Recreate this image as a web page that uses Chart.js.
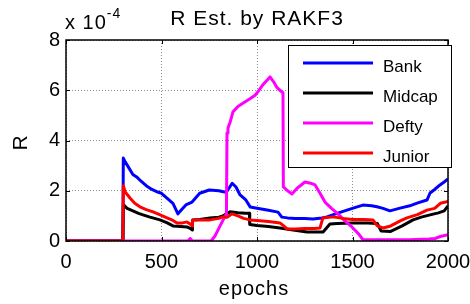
<!DOCTYPE html>
<html>
<head>
<meta charset="utf-8">
<title>R Est. by RAKF3</title>
<script src="https://cdn.jsdelivr.net/npm/chart.js@4/dist/chart.umd.min.js"></script>
<style>
  html, body { margin: 0; padding: 0; background: #fff; }
  canvas { display: block; }
</style>
</head>
<body>
<canvas id="r-chart" width="470" height="304"></canvas>
<script>
// values are in units of 1e-4 (the axis shows "x 10^-4")
var seriesNames = ['Bank', 'Midcap', 'Defty', 'Junior'];
var seriesColors = ['#0000ff', '#000000', '#ff00ff', '#ff0000'];

var bankEpochs = [0, 298, 300, 310, 330, 350, 370, 390, 420, 450, 480, 500, 530, 560, 586, 600, 630, 660, 700, 750, 800, 830, 845, 870, 890, 910, 940, 965, 1000, 1060, 1110, 1130, 1160, 1200, 1250, 1293, 1340, 1366, 1419, 1471, 1520, 1555, 1600, 1628, 1660, 1696, 1749, 1800, 1838, 1890, 1906, 1930, 1958, 1980, 2000];
var bankR = [0, 0, 3.3, 3.15, 2.9, 2.65, 2.55, 2.4, 2.2, 2.05, 1.95, 1.9, 1.7, 1.5, 1.08, 1.2, 1.45, 1.55, 1.9, 2.03, 2.0, 1.95, 2.0, 2.3, 2.15, 1.85, 1.65, 1.35, 1.3, 1.22, 1.15, 0.95, 0.92, 0.9, 0.9, 0.88, 0.92, 0.96, 1.1, 1.23, 1.35, 1.43, 1.4, 1.36, 1.3, 1.2, 1.31, 1.4, 1.51, 1.63, 1.91, 2.05, 2.23, 2.35, 2.47];

var midcapEpochs = [0, 298, 300, 320, 350, 380, 403, 440, 492, 530, 560, 600, 633, 650, 660, 662, 700, 754, 800, 822, 859, 900, 940, 960, 962, 1000, 1060, 1120, 1180, 1262, 1300, 1346, 1382, 1420, 1500, 1580, 1630, 1650, 1700, 1760, 1817, 1860, 1906, 1950, 1980, 2000];
var midcapR = [0, 0, 1.45, 1.3, 1.2, 1.1, 1.04, 0.95, 0.84, 0.72, 0.6, 0.58, 0.56, 0.5, 0.44, 0.84, 0.86, 0.92, 0.95, 1.0, 1.16, 1.12, 1.1, 1.1, 0.66, 0.62, 0.58, 0.52, 0.45, 0.36, 0.36, 0.36, 0.68, 0.7, 0.72, 0.72, 0.7, 0.4, 0.38, 0.6, 0.84, 0.95, 1.04, 1.12, 1.2, 1.4];

var deftyEpochs = [0, 640, 650, 660, 760, 780, 800, 820, 840, 843, 848, 860, 874, 900, 930, 963, 990, 1005, 1031, 1068, 1090, 1105, 1120, 1136, 1138, 1160, 1183, 1210, 1251, 1280, 1304, 1330, 1356, 1390, 1424, 1460, 1497, 1530, 1555, 1600, 1700, 1800, 1900, 1932, 1960, 2000];
var deftyR = [0, 0, 0.1, 0, 0, 0.2, 0.5, 0.8, 1.08, 4.3, 4.5, 4.75, 5.14, 5.35, 5.5, 5.66, 5.8, 5.94, 6.22, 6.53, 6.3, 6.1, 6.0, 5.9, 2.15, 2.0, 1.87, 2.1, 2.35, 2.3, 2.23, 1.9, 1.55, 1.3, 1.08, 0.8, 0.56, 0.3, 0.05, 0.05, 0.05, 0.05, 0.08, 0.1, 0.18, 0.25];

var juniorEpochs = [0, 298, 300, 310, 335, 360, 387, 420, 456, 490, 529, 560, 581, 610, 633, 650, 660, 662, 700, 754, 800, 822, 845, 869, 900, 930, 963, 1000, 1060, 1120, 1140, 1157, 1200, 1250, 1300, 1330, 1345, 1398, 1450, 1500, 1560, 1607, 1630, 1660, 1700, 1750, 1785, 1840, 1890, 1930, 1960, 2000];
var juniorR = [0, 0, 2.2, 1.95, 1.71, 1.5, 1.36, 1.25, 1.16, 1.05, 0.92, 0.82, 0.72, 0.72, 0.76, 0.68, 0.6, 0.84, 0.84, 0.84, 0.9, 0.96, 0.95, 1.08, 1.0, 0.9, 0.84, 0.82, 0.78, 0.72, 0.6, 0.48, 0.48, 0.5, 0.5, 0.52, 0.92, 0.96, 0.9, 0.86, 0.86, 0.84, 0.6, 0.52, 0.6, 0.8, 0.92, 1.05, 1.23, 1.3, 1.5, 1.57];

var xTicks = [0, 500, 1000, 1500, 2000];
var yTicks = [0, 2, 4, 6, 8];

var FONT = "'Liberation Sans', Arial, Helvetica, sans-serif";

function toPoints(xs, ys) {
    var pts = [];
    for (let i = 0; i < xs.length; i++) {
        pts.push({ x: xs[i], y: ys[i] });
    }
    return pts;
}

var allEpochs = [bankEpochs, midcapEpochs, deftyEpochs, juniorEpochs];
var allR = [bankR, midcapR, deftyR, juniorR];

var datasets = [];
for (let i = 0; i < seriesNames.length; i++) {
    datasets.push({
        label: seriesNames[i],
        data: toPoints(allEpochs[i], allR[i]),
        borderColor: seriesColors[i],
        backgroundColor: seriesColors[i],
        borderWidth: 3,
        pointRadius: 0,
        tension: 0,
        borderJoinStyle: 'round',
        order: seriesNames.length - i   // last series drawn on top, like matlab
    });
}

// box, inward ticks, title, axis labels and legend in matlab style
var matlabDecor = {
    id: 'matlabDecor',
    afterDraw: function(chart) {
        var ctx = chart.ctx;
        var area = chart.chartArea;
        var xs = chart.scales.x, ys = chart.scales.y;
        ctx.save();

        // inward tick marks
        ctx.strokeStyle = '#000';
        ctx.lineWidth = 1;
        ctx.beginPath();
        xTicks.forEach(function(v) {
            var px = Math.round(xs.getPixelForValue(v)) + 0.5;
            ctx.moveTo(px, area.bottom); ctx.lineTo(px, area.bottom - 4);
            ctx.moveTo(px, area.top); ctx.lineTo(px, area.top + 4);
        });
        yTicks.forEach(function(v) {
            var py = Math.round(ys.getPixelForValue(v)) + 0.5;
            ctx.moveTo(area.left, py); ctx.lineTo(area.left + 4, py);
            ctx.moveTo(area.right, py); ctx.lineTo(area.right - 4, py);
        });
        ctx.stroke();

        // axes box
        ctx.lineWidth = 1.5;
        ctx.strokeRect(area.left, area.top, area.right - area.left, area.bottom - area.top);

        // legend
        var lx = 288.5, ly = 45.5, lw = 163, lh = 122;
        ctx.fillStyle = '#fff';
        ctx.fillRect(lx, ly, lw, lh);
        ctx.lineWidth = 1;
        ctx.strokeStyle = '#000';
        ctx.strokeRect(lx, ly, lw, lh);
        ctx.font = '17px ' + FONT;
        ctx.textAlign = 'left';
        ctx.textBaseline = 'alphabetic';
        for (let i = 0; i < seriesNames.length; i++) {
            var yy = 63 + i * 30;
            ctx.strokeStyle = seriesColors[i];
            ctx.lineWidth = 3;
            ctx.beginPath();
            ctx.moveTo(303, yy); ctx.lineTo(373, yy);
            ctx.stroke();
            ctx.fillStyle = '#000';
            ctx.fillText(seriesNames[i], 383, yy + 9);
        }

        ctx.fillStyle = '#000';
        ctx.letterSpacing = '1px';

        // title
        ctx.font = '21px ' + FONT;
        ctx.textAlign = 'center';
        ctx.fillText('R Est. by RAKF3', 257, 25);

        // exponent label
        ctx.font = '20px ' + FONT;
        ctx.textAlign = 'left';
        ctx.fillText('x 10', 65, 29);
        var w = ctx.measureText('x 10').width;
        ctx.font = '14px ' + FONT;
        ctx.fillText('-4', 65 + w, 18);

        // x label
        ctx.font = '20px ' + FONT;
        ctx.textAlign = 'center';
        ctx.fillText('epochs', 254, 295);

        // y label
        ctx.letterSpacing = '0px';
        ctx.translate(21, 143);
        ctx.rotate(-Math.PI / 2);
        ctx.font = '21px ' + FONT;
        ctx.textBaseline = 'middle';
        ctx.fillText('R', 0, 0);

        ctx.restore();
    }
};

function drawChart() {
    var ctx = document.getElementById('r-chart');
    return new Chart(ctx, {
        type: 'line',
        data: { datasets: datasets },
        options: {
            responsive: false,
            animation: false,
            devicePixelRatio: 1,
            layout: { padding: { left: 0, right: 22, top: 40, bottom: 0 } },
            plugins: {
                legend: { display: false },
                title: { display: false },
                tooltip: { enabled: false }
            },
            scales: {
                x: {
                    type: 'linear',
                    min: 0,
                    max: 2000,
                    afterBuildTicks: function(scale) {
                        scale.ticks = xTicks.map(function(v) { return { value: v }; });
                    },
                    afterFit: function(scale) {
                        scale.height = 63;
                        scale.paddingLeft = 0;
                        scale.paddingRight = 0;
                    },
                    ticks: {
                        color: '#000',
                        padding: 9,
                        maxRotation: 0,
                        callback: function(v) { return String(v); },
                        font: { family: FONT, size: 20 }
                    },
                    grid: { color: '#8c8c8c', lineWidth: 1, drawTicks: false },
                    border: { display: false, dash: [1, 2] }
                },
                y: {
                    type: 'linear',
                    min: 0,
                    max: 8,
                    afterBuildTicks: function(scale) {
                        scale.ticks = yTicks.map(function(v) { return { value: v }; });
                    },
                    afterFit: function(scale) {
                        scale.width = 66;
                        scale.paddingTop = 0;
                        scale.paddingBottom = 0;
                    },
                    ticks: {
                        color: '#000',
                        padding: 6,
                        callback: function(v) { return String(v); },
                        font: { family: FONT, size: 20 }
                    },
                    grid: { color: '#8c8c8c', lineWidth: 1, drawTicks: false },
                    border: { display: false, dash: [1, 2] }
                }
            }
        },
        plugins: [matlabDecor]
    });
}

var rChart = drawChart();
</script>
</body>
</html>
